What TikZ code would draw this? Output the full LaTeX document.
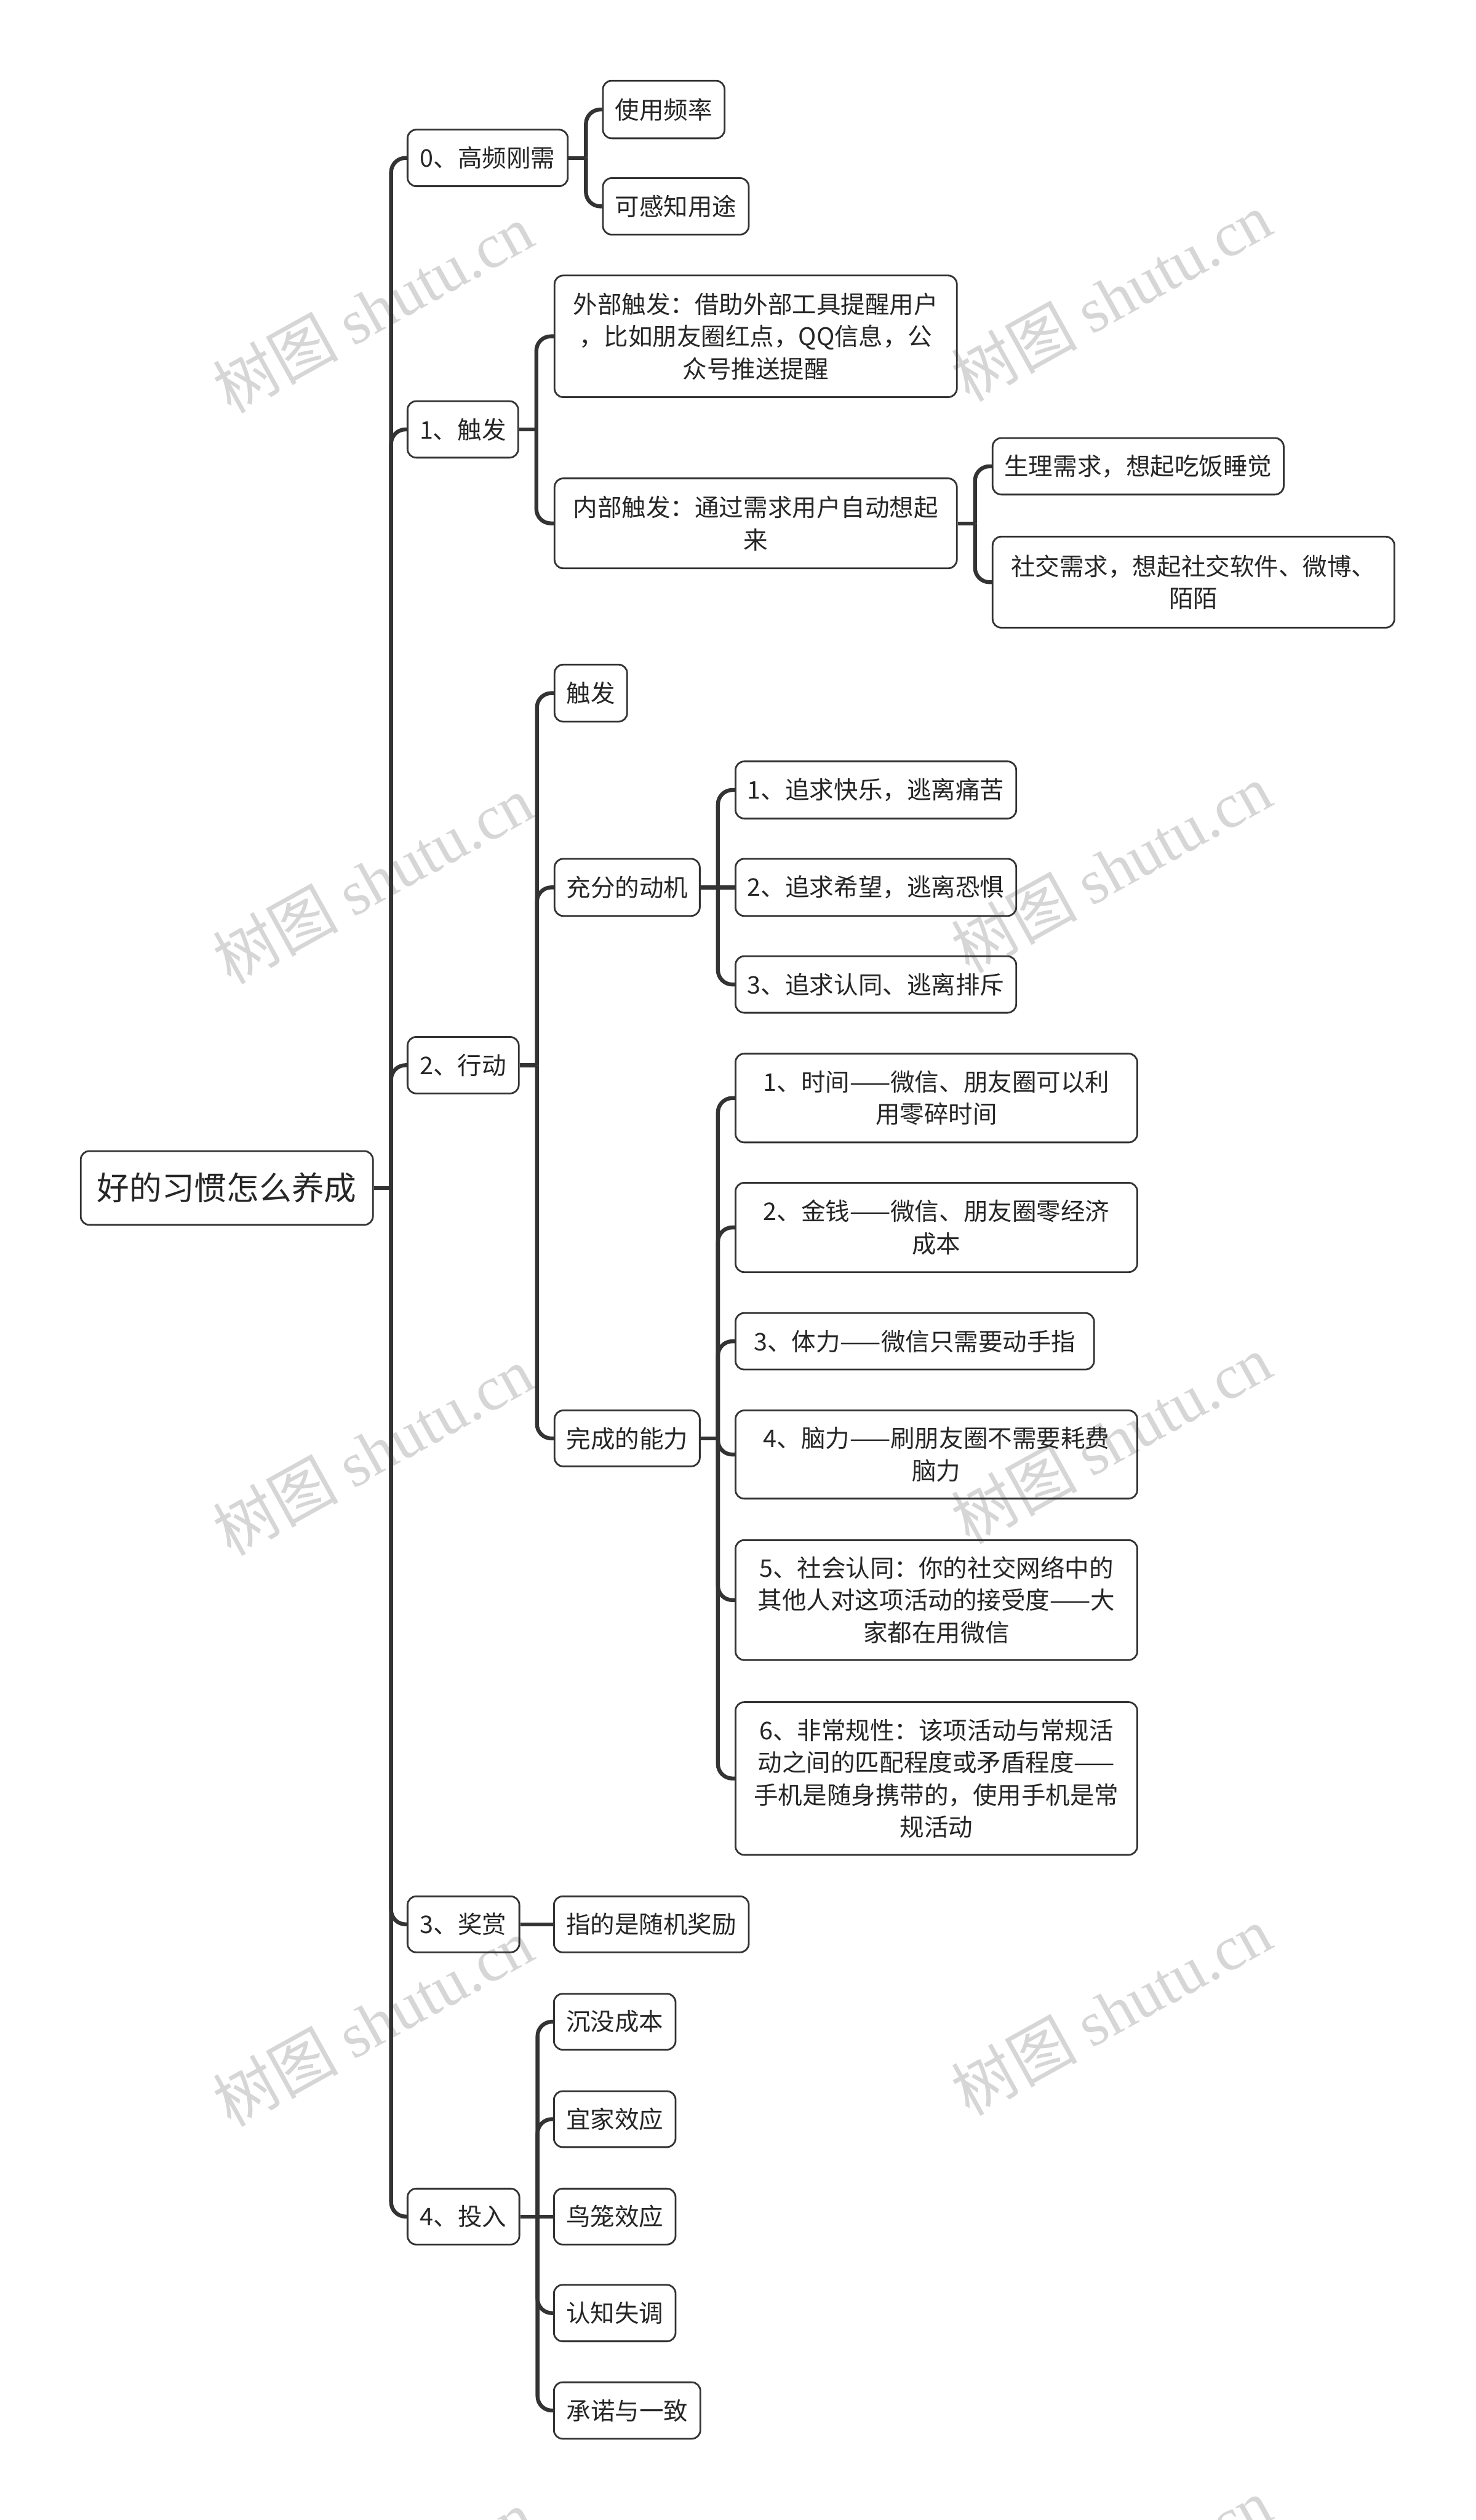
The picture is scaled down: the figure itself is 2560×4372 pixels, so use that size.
\documentclass[tikz,border=0pt]{standalone}
\usepackage{fontspec}
\setmainfont{Noto Sans CJK SC}
\newfontfamily\wmlatin{Liberation Serif}
\newfontfamily\wmcjk{Noto Sans CJK SC}
\definecolor{ln}{HTML}{333333}
\definecolor{tx}{HTML}{262626}
\definecolor{wmc}{HTML}{D6D6D6}
\tikzset{
  box/.style={draw=ln, line width=0.03cm, rounded corners=0.15cm, align=center,
    inner sep=0pt, text=tx, font=\fontsize{12}{15.9}\selectfont},
  rootbox/.style={draw=ln, line width=0.03cm, rounded corners=0.15cm, align=center,
    inner sep=0pt, text=tx, font=\fontsize{16}{20}\selectfont},
  conn/.style={draw=ln, line width=0.068cm},
  wm/.style={text=wmc, rotate=29, font=\fontsize{31}{31}\selectfont, inner sep=0pt}
}
% [style]{name}{left}{top}{right}{bottom}{text}
\newcommand\mmnode[7][box]{\node[#1, minimum width={(#5-#3)*0.01cm},
  minimum height={(#6-#4)*0.01cm}] (#2) at ({(#3+#5)/2},{(#4+#6)/2}) {#7};}
% parent -> child, elbow with rounded corner at the child
\newcommand\mmlink[2]{\draw[conn] (#1.east) -- ++(30,0) coordinate (t-#1);
  \draw[conn, rounded corners=0.25cm] (t-#1) |- (#2.west);}
\newcommand\mmstraight[2]{\draw[conn] (#1.east) -- (#2.west);}
\begin{document}
\begin{tikzpicture}[x=0.01cm, y=-0.01cm]
\useasboundingbox (0,0) rectangle (2560,4372);
\fill[white] (0,0) rectangle (2560,4372);

% watermarks
\foreach \wy in {535,1526,2517,3508,4500}{
  \node[wm] at (647,\wy) {{\wmcjk 树图} {\wmlatin shutu.cn}};
  \node[wm] at (1928,\wy-20) {{\wmcjk 树图} {\wmlatin shutu.cn}};
}

% root
\mmnode[rootbox]{root}{140}{1997}{647}{2125}{好的习惯怎么养成}

% level 1
\mmnode{a0}{707}{225}{985}{323}{0、高频刚需}
\mmnode{a1}{707}{696}{899}{794}{1、触发}
\mmnode{a2}{707}{1799}{900}{1897}{2、行动}
\mmnode{a3}{707}{3290}{901}{3387}{3、奖赏}
\mmnode{a4}{707}{3797}{901}{3894}{4、投入}

% children of a0
\mmnode{b01}{1046}{140}{1257}{240}{使用频率}
\mmnode{b02}{1046}{309}{1299}{407}{可感知用途}

% children of a1
\mmnode{b11}{962}{478}{1660}{689}{外部触发：借助外部工具提醒用户\\，比如朋友圈红点，QQ信息，公\\众号推送提醒}
\mmnode{b12}{962}{830}{1660}{986}{内部触发：通过需求用户自动想起\\来}
\mmnode{c121}{1722}{760}{2227}{858}{生理需求，想起吃饭睡觉}
\mmnode{c122}{1722}{931}{2419}{1089}{社交需求，想起社交软件、微博、\\陌陌}

% children of a2
\mmnode{b21}{962}{1153}{1088}{1252}{触发}
\mmnode{b22}{962}{1490}{1214}{1589}{充分的动机}
\mmnode{b23}{962}{2447}{1214}{2544}{完成的能力}
\mmnode{c221}{1276}{1321}{1763}{1420}{1、追求快乐，逃离痛苦}
\mmnode{c222}{1276}{1490}{1763}{1589}{2、追求希望，逃离恐惧}
\mmnode{c223}{1276}{1659}{1763}{1757}{3、追求认同、逃离排斥}
\mmnode{c231}{1276}{1828}{1973}{1982}{1、时间——微信、朋友圈可以利\\用零碎时间}
\mmnode{c232}{1276}{2052}{1973}{2207}{2、金钱——微信、朋友圈零经济\\成本}
\mmnode{c233}{1276}{2278}{1898}{2376}{3、体力——微信只需要动手指}
\mmnode{c234}{1276}{2447}{1973}{2600}{4、脑力——刷朋友圈不需要耗费\\脑力}
\mmnode{c235}{1276}{2672}{1973}{2880}{5、社会认同：你的社交网络中的\\其他人对这项活动的接受度——大\\家都在用微信}
\mmnode{c236}{1276}{2953}{1973}{3218}{6、非常规性：该项活动与常规活\\动之间的匹配程度或矛盾程度——\\手机是随身携带的，使用手机是常\\规活动}

% child of a3
\mmnode{b31}{961}{3290}{1299}{3387}{指的是随机奖励}

% children of a4
\mmnode{b41}{961}{3459}{1172}{3556}{沉没成本}
\mmnode{b42}{961}{3628}{1172}{3725}{宜家效应}
\mmnode{b43}{961}{3797}{1172}{3894}{鸟笼效应}
\mmnode{b44}{961}{3964}{1172}{4062}{认知失调}
\mmnode{b45}{961}{4133}{1215}{4231}{承诺与一致}

% connectors
\mmlink{root}{a0}
\mmlink{root}{a1}
\mmlink{root}{a2}
\mmlink{root}{a3}
\mmlink{root}{a4}

\mmlink{a0}{b01}
\mmlink{a0}{b02}

\mmlink{a1}{b11}
\mmlink{a1}{b12}
\mmlink{b12}{c121}
\mmlink{b12}{c122}

\mmlink{a2}{b21}
\mmlink{a2}{b22}
\mmlink{a2}{b23}
\mmlink{b22}{c221}
\mmstraight{b22}{c222}
\mmlink{b22}{c223}
\mmlink{b23}{c231}
\mmlink{b23}{c232}
\mmlink{b23}{c233}
\mmlink{b23}{c234}
\mmlink{b23}{c235}
\mmlink{b23}{c236}

\mmstraight{a3}{b31}

\mmlink{a4}{b41}
\mmlink{a4}{b42}
\mmstraight{a4}{b43}
\mmlink{a4}{b44}
\mmlink{a4}{b45}
\end{tikzpicture}
\end{document}
